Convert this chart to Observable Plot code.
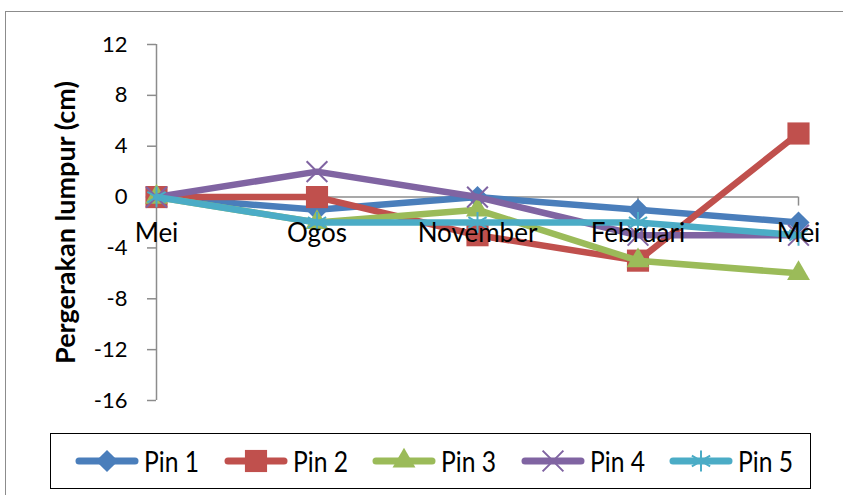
<!DOCTYPE html>
<html>
<head>
<meta charset="utf-8">
<script src="https://cdn.jsdelivr.net/npm/d3@7"></script>
<script src="https://cdn.jsdelivr.net/npm/@observablehq/plot@0.6"></script>
<style>
  html, body { margin: 0; padding: 0; background: #fff; }
  #wrap { position: relative; width: 843px; height: 495px; overflow: hidden; background: #fff; font-family: Lato, "Open Sans", sans-serif; }
  #frame { position: absolute; left: 5px; top: 11px; width: 900px; height: 600px; border-left: 1.5px solid #8c8c8c; border-top: 1.5px solid #8c8c8c; }
  #chart { position: absolute; left: 0; top: 0; }
  #legend { position: absolute; left: 50px; top: 433px; width: 759px; height: 54px; border: 1.5px solid #000; box-sizing: content-box; }
  .item { position: absolute; top: 0; height: 54px; display: flex; align-items: center; }
  .item span { font-family: Lato, "Open Sans", sans-serif; font-size: 28px; color: #000; margin-left: 5px; display: inline-block; transform: scaleX(0.88); transform-origin: left center; }
</style>
</head>
<body>
<div id="wrap">
  <div id="frame"></div>
  <div id="chart"></div>
  <div id="legend"></div>
</div>
<script>
// ---- data ----
const categories = ["Mei", "Ogos", "November", "Februari", "Mei"];
const seriesNames = ["Pin 1", "Pin 2", "Pin 3", "Pin 4", "Pin 5"];
const pin1 = [0, -1, 0, -1, -2];
const pin2 = [0, 0, -3, -5, 5];
const pin3 = [0, -2, -1, -5, -6];
const pin4 = [0, 2, 0, -3, -3];
const pin5 = [0, -2, -2, -2, -3];
const yTicks = [12, 8, 4, 0, -4, -8, -12, -16];
const yTitle = "Pergerakan lumpur (cm)";

// ---- styles ----
const colors = ["#4A7EBB", "#C0504D", "#9BBB59", "#8064A2", "#4BACC6"];
const symbols = ["diamond2", "square", "triangle", "times", "asterisk"];
const radii = [10, 12.5, 8.5, 9.5, 10];
const filled = [true, true, true, false, false];
const seriesValues = [pin1, pin2, pin3, pin4, pin5];

const rows = seriesValues.map((vals, s) => vals.map((v, i) => ({series: seriesNames[s], i, cat: categories[i], v})));
const catIdx = categories.map((c, i) => ({i, c}));

const gray = "#8c8c8c";
const fontSize = 22;

const marks = [
  Plot.ruleY([0], {x1: 0, x2: categories.length - 1, stroke: gray, strokeWidth: 1.5}),
  Plot.ruleX(catIdx, {x: "i", y1: 0, y2: 0, insetBottom: -9, stroke: gray, strokeWidth: 1.5}),
  Plot.ruleX([0], {y1: d3.min(yTicks), y2: d3.max(yTicks), stroke: gray, strokeWidth: 1.5}),
  Plot.axisY({ticks: yTicks, label: null, tickSize: 9, tickPadding: 20, stroke: gray, fill: "#000", strokeWidth: 1.5, fontSize, tickFormat: d => String(d)}),
  Plot.text([yTitle], {frameAnchor: "left", textAnchor: "middle", dx: -90, rotate: -90, fontSize: 27, fontWeight: "bold", fill: "#000"})
];
rows.forEach((data, s) => {
  marks.push(Plot.line(data, {x: "i", y: "v", stroke: colors[s], strokeWidth: 6.5, strokeLinejoin: "round", strokeLinecap: "round"}));
  marks.push(Plot.dot(data, {x: "i", y: "v", symbol: symbols[s], r: radii[s],
    fill: filled[s] ? colors[s] : "none", stroke: colors[s], strokeWidth: filled[s] ? 0 : 2}));
});
marks.push(Plot.text(catIdx, {x: "i", y: 0, text: "c", dy: 37, fontSize: 26, fill: "#000"}));

const chart = Plot.plot({
  width: 843,
  height: 430,
  marginLeft: 156,
  marginRight: 45,
  marginTop: 44,
  marginBottom: 30,
  style: {fontFamily: "Lato, 'Open Sans', sans-serif", background: "transparent", overflow: "visible"},
  x: {type: "linear", domain: [0, categories.length - 1], axis: null},
  y: {domain: [d3.min(yTicks), d3.max(yTicks)], axis: null},
  marks
});
document.getElementById("chart").appendChild(chart);

// ---- legend ----
const legend = document.getElementById("legend");
const symbolTypes = {diamond2: d3.symbolDiamond2, square: d3.symbolSquare, triangle: d3.symbolTriangle, times: d3.symbolTimes, asterisk: d3.symbolAsterisk};
seriesNames.forEach((name, s) => {
  const item = document.createElement("div");
  item.className = "item";
  item.style.left = (24 + s * 148.5) + "px";
  const sym = d3.symbol(symbolTypes[symbols[s]], Math.PI * radii[s] * radii[s])();
  item.innerHTML = `<svg width="64" height="30" viewBox="0 0 64 30">
      <line x1="4" y1="15" x2="60" y2="15" stroke="${colors[s]}" stroke-width="7" stroke-linecap="round"/>
      <path transform="translate(32,15)" d="${sym}" fill="${filled[s] ? colors[s] : "none"}" stroke="${colors[s]}" stroke-width="${filled[s] ? 0 : 2}"/>
    </svg><span>${name}</span>`;
  legend.appendChild(item);
});
</script>
</body>
</html>
